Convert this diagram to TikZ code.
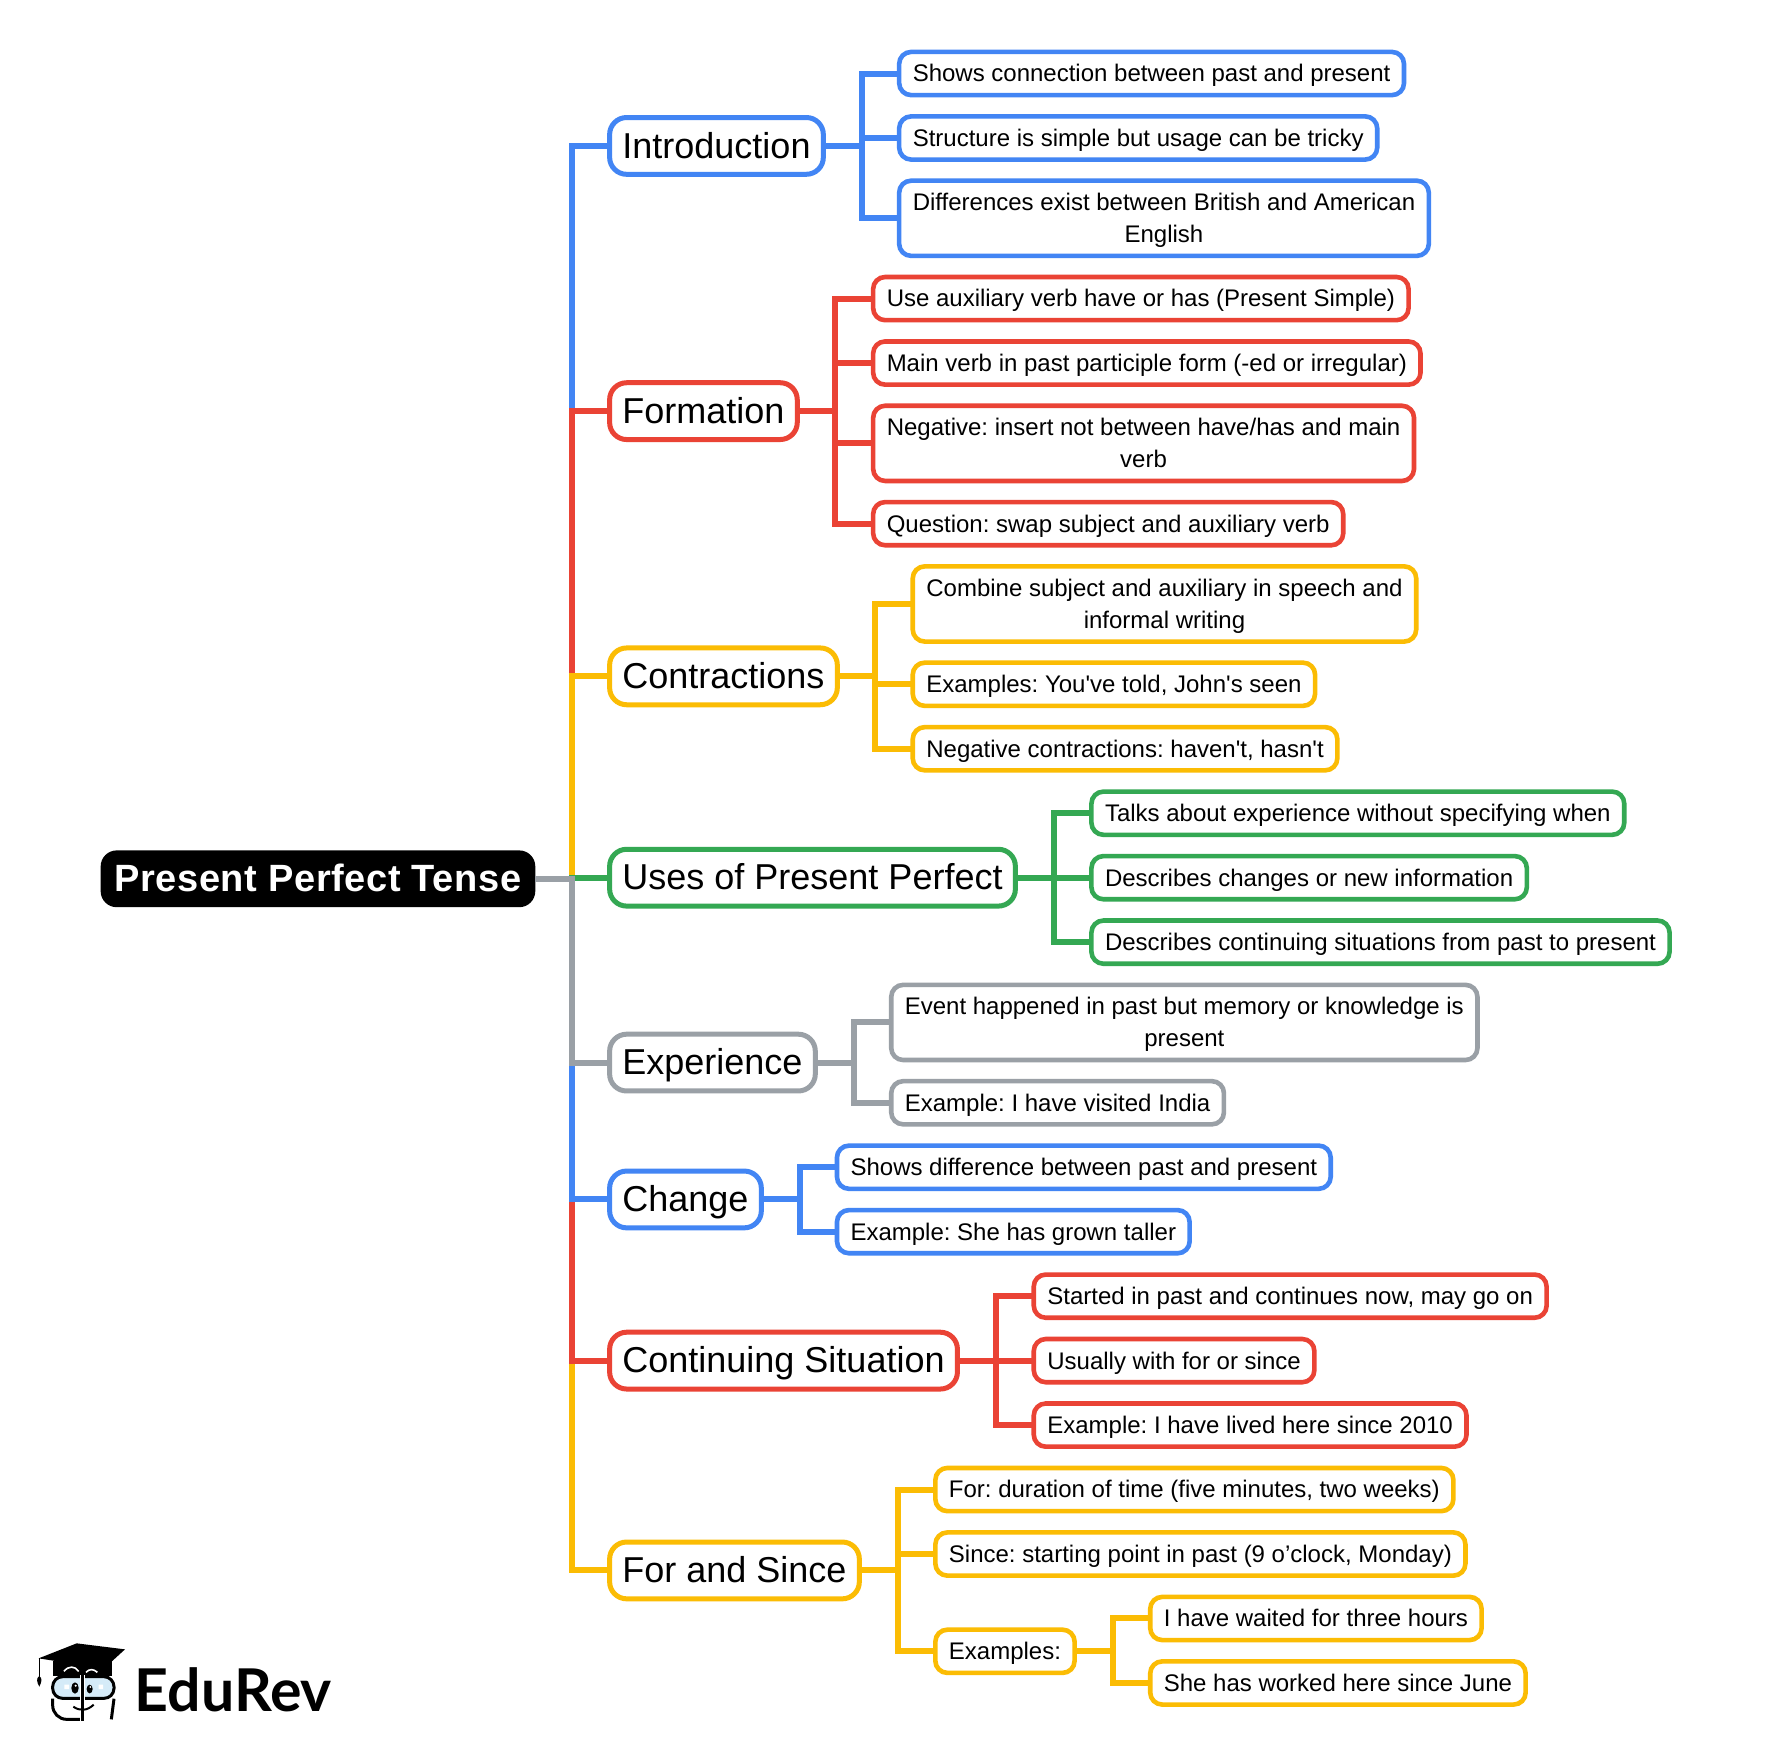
\documentclass[tikz,border=0pt]{standalone}
\usepackage{fontspec}
\frenchspacing
\newfontfamily\lfont{Liberation Sans}
\newfontfamily\rootfont[LetterSpace=1.5]{Liberation Sans}
\newfontfamily\logofont{Lato}
\definecolor{cblue}{HTML}{4285F4}
\definecolor{cred}{HTML}{EA4335}
\definecolor{cyellow}{HTML}{FBBC04}
\definecolor{cgreen}{HTML}{34A853}
\definecolor{cgrey}{HTML}{9AA0A6}
\definecolor{glass}{HTML}{D5EBF8}
\newcommand{\ls}{\rule[-3.8pt]{0pt}{16pt}}
\newcommand{\hs}{\rule[-5.85pt]{0pt}{24pt}}
\tikzset{
  x=0.5655pt,y=-0.5655pt,
  rootbox/.style={fill=black,text=white,rounded corners=8pt,inner xsep=7pt,inner ysep=2.2pt,outer sep=0pt,anchor=west,
    font=\rootfont\bfseries\fontsize{19pt}{24pt}\selectfont},
  headbox/.style={draw=#1,fill=white,line width=2.5pt,rounded corners=8.5pt,inner xsep=6.4pt,inner ysep=2.2pt,outer sep=0pt,anchor=west,
    font=\lfont\fontsize{18pt}{24pt}\selectfont},
  leafbox/.style={draw=#1,fill=white,line width=2.3pt,rounded corners=6pt,inner xsep=6.8pt,inner ysep=2.8pt,outer sep=0pt,anchor=west,align=center,
    font=\lfont\fontsize{12pt}{16pt}\selectfont},
  link/.style={draw=#1,line width=3pt,line join=miter},
}
\begin{document}
\begin{tikzpicture}
\fill[white] (0pt,0pt) rectangle (886pt,-878pt);
\useasboundingbox (0pt,0pt) rectangle (886pt,-878pt);

% root and headers
\node[rootbox] (root) at (89,777) {\hs Present Perfect Tense};
\node[headbox=cblue] (intro) at (539,129) {\hs Introduction};
\node[headbox=cred] (form) at (539,363.5) {\hs Formation};
\node[headbox=cyellow] (contr) at (539,598) {\hs Contractions};
\node[headbox=cgreen] (uses) at (539,776) {\hs Uses of Present Perfect};
\node[headbox=cgrey] (exper) at (539,939.5) {\hs Experience};
\node[headbox=cblue] (chang) at (539,1060.5) {\hs Change};
\node[headbox=cred] (conti) at (539,1203) {\hs Continuing Situation};
\node[headbox=cyellow] (fors) at (539,1388.5) {\hs For and Since};

% stem
\coordinate (stem) at (506,777);
\foreach \n/\c in {intro/cblue,form/cred,contr/cyellow,uses/cgreen,fors/cyellow,conti/cred,chang/cblue,exper/cgrey}{
  \draw[link=\c] (root.east) -- (stem |- root.east) -- (stem |- \n.west) -- (\n.west);
}

% Introduction
\node[leafbox=cblue] (i1) at (795,65) {\ls Shows connection between past and present};
\node[leafbox=cblue] (i2) at (795,122) {\ls Structure is simple but usage can be tricky};
\node[leafbox=cblue] (i3) at (795,193) {\ls Differences exist between British and American\\\ls English};
\coordinate (ti) at (762,129);
\foreach \n in {i1,i2,i3}{\draw[link=cblue] (intro.east) -- (ti |- intro.east) |- (\n.west);}

% Formation
\node[leafbox=cred] (f1) at (772,264) {\ls Use auxiliary verb have or has (Present Simple)};
\node[leafbox=cred] (f2) at (772,321) {\ls Main verb in past participle form (-ed or irregular)};
\node[leafbox=cred] (f3) at (772,392) {\ls Negative: insert not between have/has and main\\\ls verb};
\node[leafbox=cred] (f4) at (772,463) {\ls Question: swap subject and auxiliary verb};
\coordinate (tf) at (738,363);
\foreach \n in {f1,f2,f3,f4}{\draw[link=cred] (form.east) -- (tf |- form.east) |- (\n.west);}

% Contractions
\node[leafbox=cyellow] (c1) at (807,534) {\ls Combine subject and auxiliary in speech and\\\ls informal writing};
\node[leafbox=cyellow] (c2) at (807,605) {\ls Examples: You've told, John's seen};
\node[leafbox=cyellow] (c3) at (807,662) {\ls Negative contractions: haven't, hasn't};
\coordinate (tc) at (774,598);
\foreach \n in {c1,c2,c3}{\draw[link=cyellow] (contr.east) -- (tc |- contr.east) |- (\n.west);}

% Uses
\node[leafbox=cgreen] (u1) at (965,719) {\ls Talks about experience without specifying when};
\node[leafbox=cgreen] (u2) at (965,776) {\ls Describes changes or new information};
\node[leafbox=cgreen] (u3) at (965,833) {\ls Describes continuing situations from past to present};
\coordinate (tu) at (932,776);
\foreach \n in {u1,u2,u3}{\draw[link=cgreen] (uses.east) -- (tu |- uses.east) |- (\n.west);}

% Experience
\node[leafbox=cgrey] (e1) at (788,904) {\ls Event happened in past but memory or knowledge is\\\ls present};
\node[leafbox=cgrey] (e2) at (788,975) {\ls Example: I have visited India};
\coordinate (te) at (755,939);
\foreach \n in {e1,e2}{\draw[link=cgrey] (exper.east) -- (te |- exper.east) |- (\n.west);}

% Change
\node[leafbox=cblue] (h1) at (740,1032) {\ls Shows difference between past and present};
\node[leafbox=cblue] (h2) at (740,1089) {\ls Example: She has grown taller};
\coordinate (th) at (707,1060);
\foreach \n in {h1,h2}{\draw[link=cblue] (chang.east) -- (th |- chang.east) |- (\n.west);}

% Continuing Situation
\node[leafbox=cred] (s1) at (914,1146) {\ls Started in past and continues now, may go on};
\node[leafbox=cred] (s2) at (914,1203) {\ls Usually with for or since};
\node[leafbox=cred] (s3) at (914,1260) {\ls Example: I have lived here since 2010};
\coordinate (ts) at (881,1203);
\foreach \n in {s1,s2,s3}{\draw[link=cred] (conti.east) -- (ts |- conti.east) |- (\n.west);}

% For and Since
\node[leafbox=cyellow] (n1) at (827,1317) {\ls For: duration of time (five minutes, two weeks)};
\node[leafbox=cyellow] (n2) at (827,1374) {\ls Since: starting point in past (9 o’clock, Monday)};
\node[leafbox=cyellow] (n3) at (827,1460) {\ls Examples:};
\coordinate (tn) at (794,1388);
\foreach \n in {n1,n2,n3}{\draw[link=cyellow] (fors.east) -- (tn |- fors.east) |- (\n.west);}
\node[leafbox=cyellow] (x1) at (1017,1431) {\ls I have waited for three hours};
\node[leafbox=cyellow] (x2) at (1017,1488) {\ls She has worked here since June};
\coordinate (tx) at (984,1460);
\foreach \n in {x1,x2}{\draw[link=cyellow] (n3.east) -- (tx |- n3.east) |- (\n.west);}

% logo
\begin{scope}[shift={(0pt,-800pt)},x=0.16667pt,y=-0.16667pt]
  \fill[black] (160,182) -- (335,182) -- (335,228) -- (160,228) -- cycle;
  \fill[black] (116,175) -- (230,130) -- (375,148) -- (305,212) -- (250,192) -- (180,185) -- cycle;
  \draw[white,line width=0.8pt] (192,214) .. controls (205,197) and (225,197) .. (236,214);
  \draw[white,line width=0.8pt] (258,217) .. controls (268,206) and (280,206) .. (292,217);
  \draw[black,line width=0.8pt] (118,175) -- (118,235);
  \fill[black] (118,228) .. controls (128,235) and (125,245) .. (118,260) .. controls (110,245) and (108,235) .. (118,228) -- cycle;
  \draw[black,line width=1.5pt,fill=glass,rounded corners=5pt] (158,230) rectangle (342,295);
  \draw[black,line width=1.5pt,rounded corners=7pt] (158,296) -- (158,358) -- (240,358);
  \draw[black,line width=1.5pt,rounded corners=7pt] (342,296) -- (334,358);
  \fill[white] (240,224) rectangle (256,362);
  \draw[black,line width=1.2pt] (248,224) -- (248,362);
  \fill[black] (225,264) ellipse [x radius=11,y radius=17];
  \fill[black] (269,267) ellipse [x radius=9,y radius=13];
  \fill[white] (227,257) circle [radius=3.5] (271,261) circle [radius=3];
  \fill[white] (193,254) rectangle (207,267) (296,254) rectangle (309,267);
  \draw[black,line width=1pt] (220,320) .. controls (240,334) and (262,332) .. (281,314);
\end{scope}
\node[anchor=base west,inner sep=0pt,font=\logofont\bfseries\fontsize{29.5pt}{30pt}\selectfont] (logo) at (119,1513) {EduRev};
\end{tikzpicture}
\end{document}
